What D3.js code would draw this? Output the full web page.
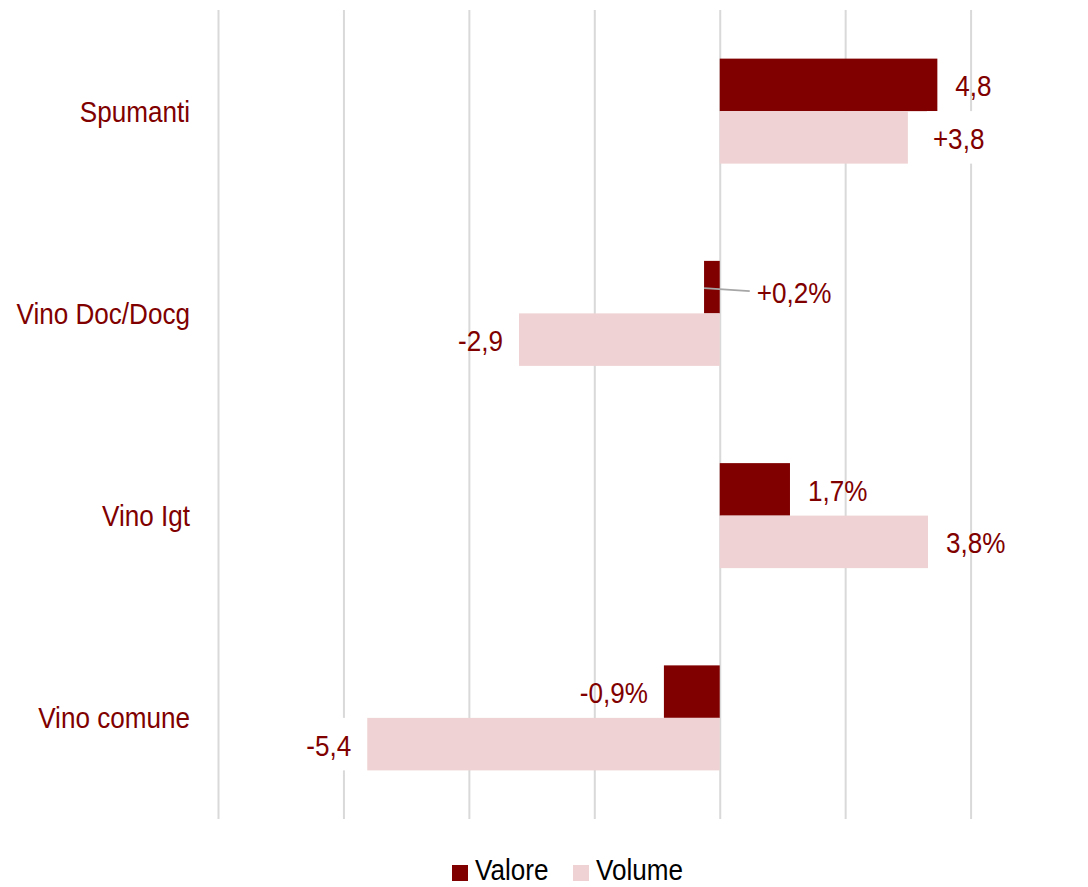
<!DOCTYPE html>
<html>
<head>
<meta charset="utf-8">
<script src="https://cdn.jsdelivr.net/npm/d3@7"></script>
<style>
  body { margin: 0; background: #fff; }
  text { font-family: 'Liberation Sans', Arial, sans-serif; }
</style>
</head>
<body>
<div id="chart"></div>
<script>
const categories = ['Spumanti', 'Vino Doc/Docg', 'Vino Igt', 'Vino comune']
const series = ['Valore', 'Volume']
// bar lengths as drawn in the picture
const valore = [3.47, -0.25, 1.12, -0.89]
const volume = [3.0, -3.2, 3.32, -5.62]
// labels as printed on the picture
const valoreLabels = ['4,8', '+0,2%', '1,7%', '-0,9%']
const volumeLabels = ['+3,8', '-2,9', '3,8%', '-5,4']
const xTicks = [-8, -6, -4, -2, 0, 2, 4]

const margin = { top: 10, left: 218, right: 117.4, bottom: 68 }
const width = 1088 - margin.left - margin.right
const height = 887 - margin.top - margin.bottom

const dark = '#800000'
const light = '#efd2d3'
const fontSize = 29
// the original font is a bit condensed
const sx = 0.9

const svg = d3
  .select('#chart')
  .append('svg')
  .attr('width', 1088)
  .attr('height', 887)
  .append('g')
  .attr('transform', 'translate(' + margin.left + ',' + margin.top + ')')

const xPositionScale = d3.scaleLinear().domain([-8, 4]).range([0, width])
const yPositionScale = d3.scaleBand().domain(categories).range([0, height])
const barHeight = 52.5

function narrowText(sel, x) {
  return sel
    .attr('x', x / sx)
    .attr('transform', 'scale(' + sx + ',1)')
    .attr('font-size', fontSize)
}

// gridlines
const xAxis = d3.axisBottom(xPositionScale).tickValues(xTicks).tickSize(height).tickFormat('')
svg
  .append('g')
  .attr('class', 'grid')
  .call(xAxis)
  .call(g => g.select('.domain').remove())
  .call(g => g.selectAll('line').attr('stroke', '#d9d9d9').attr('stroke-width', 2))

const rows = categories.map((c, i) => ({
  category: c,
  values: [
    { key: 'Valore', value: valore[i], label: valoreLabels[i], row: 0 },
    { key: 'Volume', value: volume[i], label: volumeLabels[i], row: 1 }
  ]
}))

const groups = svg
  .selectAll('.cat')
  .data(rows)
  .enter()
  .append('g')
  .attr('class', 'cat')
  .attr('transform', d => 'translate(0,' + (yPositionScale(d.category) + yPositionScale.bandwidth() / 2 - barHeight) + ')')

groups
  .selectAll('rect.bar')
  .data(d => d.values)
  .enter()
  .append('rect')
  .attr('class', 'bar')
  .attr('x', d => xPositionScale(Math.min(0, d.value)))
  .attr('width', d => Math.abs(xPositionScale(d.value) - xPositionScale(0)))
  .attr('y', d => d.row * barHeight)
  .attr('height', barHeight)
  .attr('fill', d => (d.key === 'Valore' ? dark : light))

// value labels
groups.each(function(d) {
  const g = d3.select(this)
  d.values.forEach(v => {
    const cy = v.row * barHeight + barHeight / 2
    let x, anchor
    const callout = v.value < 0 && v.label.startsWith('+')
    if (callout) {
      x = xPositionScale(0) + 37
      anchor = 'start'
      g.append('path')
        .attr('d', 'M' + xPositionScale(v.value) + ',' + (cy + 1) + ' L' + (x - 7) + ',' + (cy + 4))
        .attr('stroke', '#a6a6a6')
        .attr('stroke-width', 2)
        .attr('fill', 'none')
    } else if (v.value >= 0) {
      x = xPositionScale(v.value) + (v.label.startsWith('+') ? 25 : 18)
      anchor = 'start'
    } else {
      x = xPositionScale(v.value) - 16
      anchor = 'end'
    }
    const t = g.append('text')
      .attr('y', cy + (callout ? 4 : 0))
      .attr('dy', '0.4em')
      .attr('text-anchor', anchor)
      .attr('fill', dark)
      .text(v.label)
      .call(narrowText, x)
    // typed labels on the volume row sit on a white box
    if (v.key === 'Volume' && !v.label.endsWith('%') && v.label !== '-2,9') {
      const bb = t.node().getBBox()
      g.insert('rect', 'text')
        .attr('x', bb.x * sx - 6)
        .attr('width', bb.width * sx + 12)
        .attr('y', v.row * barHeight)
        .attr('height', barHeight)
        .attr('fill', '#fff')
    }
  })
})

// category labels
svg
  .selectAll('.cat-label')
  .data(categories)
  .enter()
  .append('text')
  .attr('class', 'cat-label')
  .attr('y', d => yPositionScale(d) + yPositionScale.bandwidth() / 2)
  .attr('dy', '0.36em')
  .attr('text-anchor', 'end')
  .attr('fill', dark)
  .text(d => d)
  .call(narrowText, 190 - margin.left)

// legend
const legend = svg
  .append('g')
  .attr('transform', 'translate(' + (452 - margin.left) + ',' + (865 - margin.top) + ')')
const legendX = [0, 121]
series.forEach((s, i) => {
  legend.append('rect')
    .attr('x', legendX[i])
    .attr('y', 0)
    .attr('width', 16)
    .attr('height', 16)
    .attr('fill', i === 0 ? dark : light)
  legend.append('text')
    .attr('y', 15)
    .attr('fill', '#000')
    .text(s)
    .call(narrowText, legendX[i] + 23)
})
</script>
</body>
</html>
